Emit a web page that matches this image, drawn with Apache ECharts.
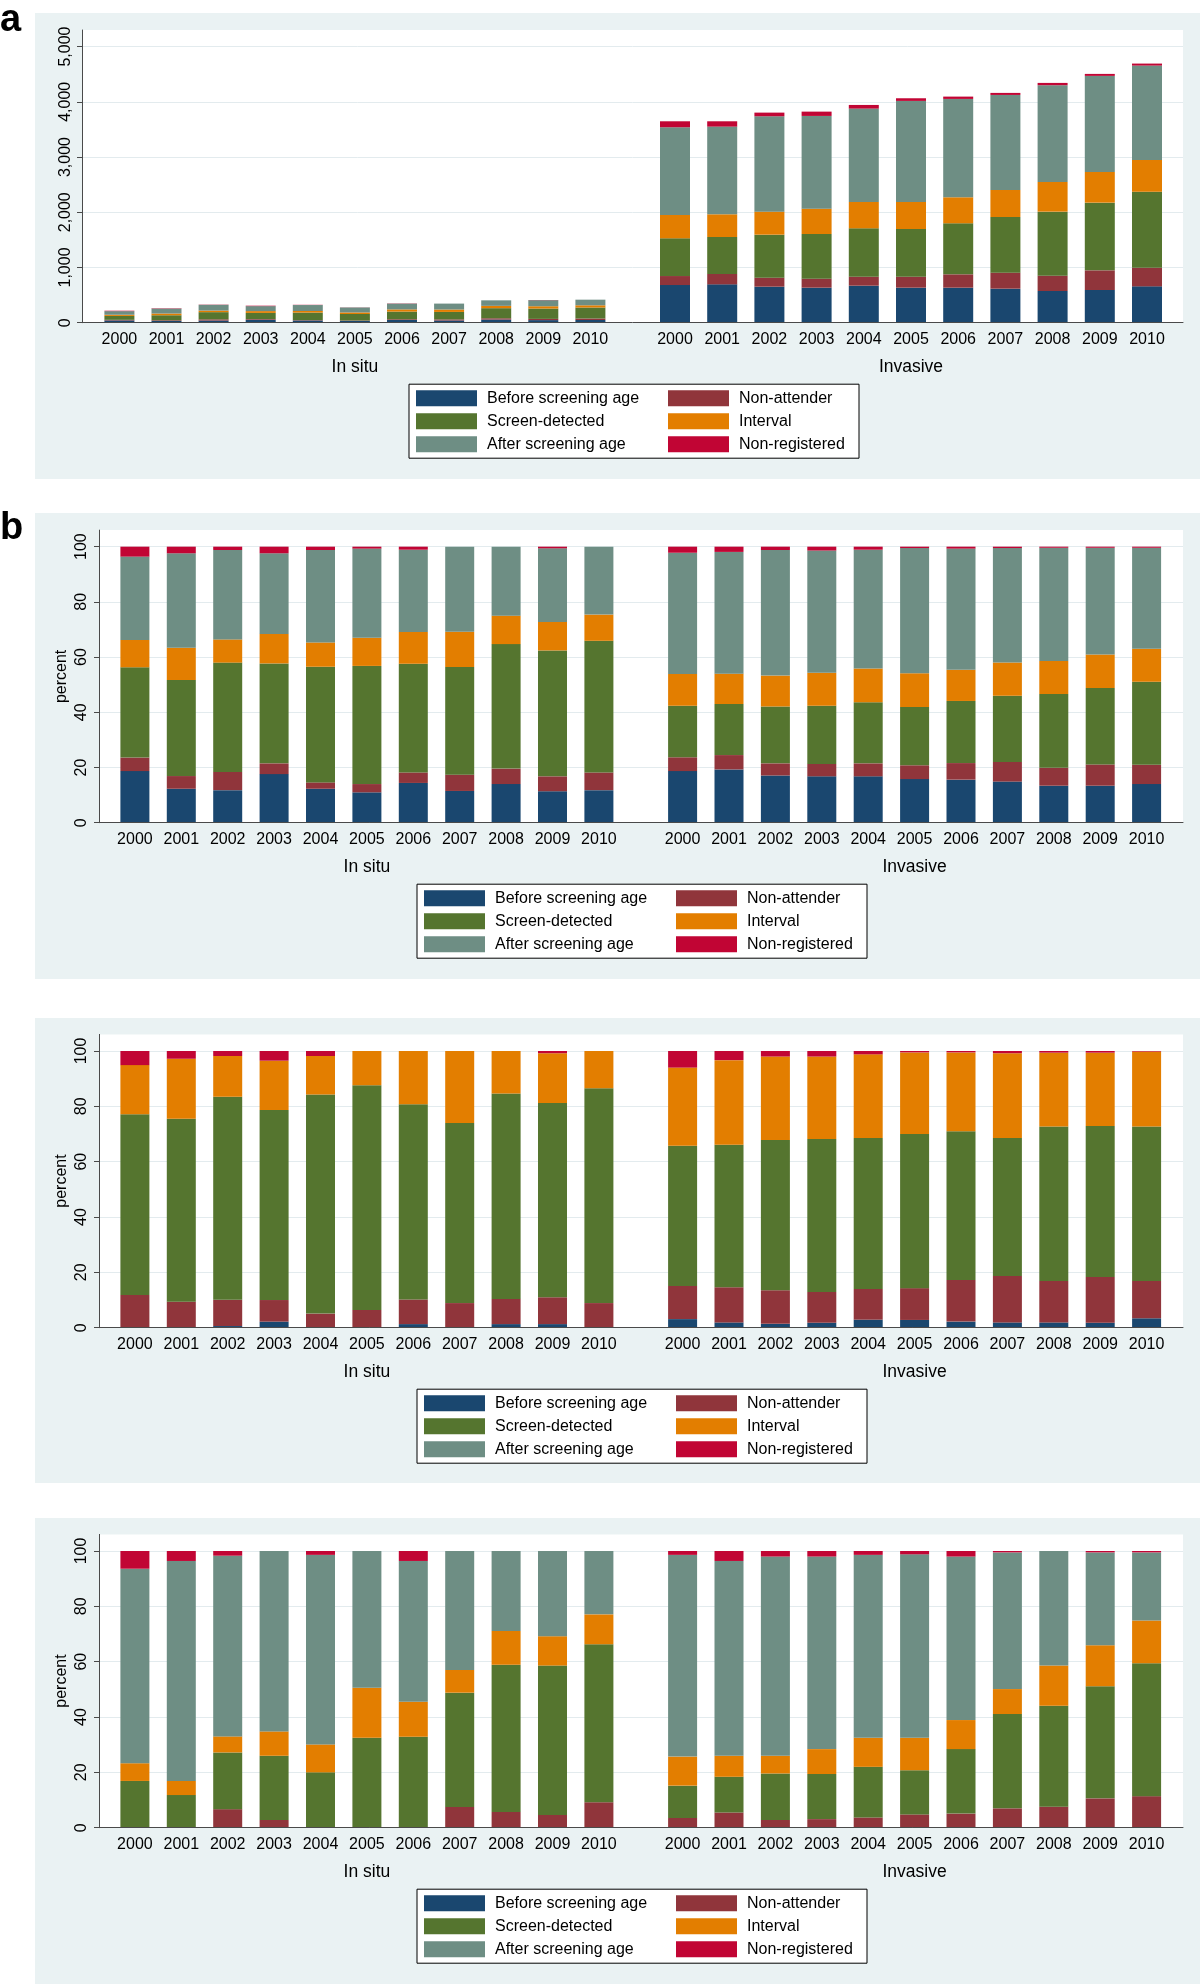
<!DOCTYPE html>
<html><head><meta charset="utf-8">
<script src="https://cdn.jsdelivr.net/npm/echarts@6/dist/echarts.min.js"></script>
<style>html,body{margin:0;padding:0;background:#fff}#c{width:1200px;height:1984px}</style>
</head><body><div id="c"></div><script>
const years = ['2000','2001','2002','2003','2004','2005','2006','2007','2008','2009','2010'];
const groups = ['In situ', 'Invasive'];
const seriesNames = ['Before screening age','Non-attender','Screen-detected','Interval','After screening age','Non-registered'];
const yTicksCount = [0, 1000, 2000, 3000, 4000, 5000];
const yTicksPct = [0, 20, 40, 60, 80, 100];

// order of rows: Before, Non-attender, Screen-detected, Interval, After, Non-registered
// Panel a: counts
const aInSitu = [
  [41,32,39,54,40,31,50,40,57,47,49],
  [11,12,22,12,7,8,13,20,23,22,27],
  [71,91,130,111,136,119,138,135,183,187,199],
  [21,31,28,33,29,28,40,44,42,42,40],
  [65,90,105,90,108,90,105,107,100,110,102],
  [8,6,4,8,4,2,4,0,0,3,0]
];
const aInvasive = [
  [682,694,652,634,670,634,634,616,574,592,658],
  [163,188,163,163,163,199,242,290,277,356,338],
  [683,670,779,809,876,864,924,1008,1160,1226,1377],
  [422,411,417,459,477,489,471,489,537,555,574],
  [1589,1588,1727,1679,1691,1830,1781,1721,1752,1740,1709],
  [108,96,66,78,66,48,42,37,42,36,36]
];
// Panel b: percent, all ages
const bInSitu = [
  [18.7,12.3,11.8,17.6,12.3,11.0,14.4,11.5,14.0,11.4,11.8],
  [4.9,4.6,6.6,3.9,2.3,3.0,3.8,5.9,5.6,5.4,6.4],
  [32.7,34.8,39.6,36.2,41.9,42.8,39.4,39.0,45.1,45.6,47.7],
  [9.9,11.7,8.4,10.7,8.8,10.2,11.5,12.8,10.3,10.3,9.5],
  [30.2,34.2,32.4,29.2,33.5,32.3,29.8,30.8,25.0,26.7,24.6],
  [3.6,2.4,1.2,2.4,1.2,0.7,1.1,0,0,0.6,0]
];
const bInvasive = [
  [18.7,19.3,17.1,16.8,16.8,15.8,15.6,14.9,13.4,13.4,14.0],
  [5.0,5.2,4.4,4.5,4.7,5.0,6.0,7.1,6.5,7.7,7.0],
  [18.7,18.5,20.6,21.1,22.1,21.1,22.5,24.0,26.7,27.7,30.1],
  [11.5,11.0,11.2,11.9,12.3,12.2,11.3,12.0,12.0,12.1,11.9],
  [43.9,44.1,45.5,44.3,43.0,45.4,43.9,41.5,41.0,38.7,36.6],
  [2.2,1.9,1.2,1.4,1.1,0.5,0.7,0.5,0.4,0.4,0.4]
];
// Panel c: percent
const cInSitu = [
  [0,0,0.6,2.2,0,0,1.3,0,1.3,1.3,0],
  [11.8,9.4,9.5,7.8,5.1,6.4,8.9,8.9,9.1,9.7,8.9],
  [65.3,66.1,73.4,68.7,79.2,81.2,70.6,65.1,74.2,70.2,77.6],
  [17.8,21.7,14.7,17.8,13.9,12.4,19.2,26.0,15.4,18.0,13.5],
  [0,0,0,0,0,0,0,0,0,0,0],
  [5.1,2.8,1.8,3.5,1.8,0,0,0,0,0.8,0]
];
const cInvasive = [
  [3.1,1.9,1.4,1.8,2.9,2.8,2.2,1.9,1.9,1.8,3.4],
  [12.0,12.7,12.1,11.1,11.1,11.5,15.0,16.8,15.0,16.5,13.5],
  [50.7,51.5,54.3,55.3,54.6,55.7,53.8,49.9,55.8,54.6,55.8],
  [28.2,30.6,30.2,29.8,30.2,29.5,28.5,30.6,26.7,26.5,27.1],
  [0,0,0,0,0,0,0,0,0,0,0],
  [6.0,3.3,2.0,2.0,1.2,0.5,0.5,0.8,0.6,0.6,0.2]
];
// Panel d: percent
const dInSitu = [
  [0,0,0,0,0,0,0,0,0,0,0],
  [0,0,6.7,2.8,0,0,0,7.5,5.7,4.6,9.2],
  [16.9,11.8,20.5,23.2,20.0,32.5,32.9,41.3,53.2,54.0,57.1],
  [6.4,5.1,5.8,8.8,10.1,18.1,12.6,8.2,12.2,10.6,10.8],
  [70.3,79.5,65.3,65.2,68.5,49.4,50.9,43.0,28.9,30.8,22.9],
  [6.4,3.6,1.7,0,1.4,0,3.6,0,0,0,0]
];
const dInvasive = [
  [0,0,0,0,0,0,0,0,0,0,0],
  [3.5,5.5,2.8,3.1,3.7,4.8,5.1,7.0,7.6,10.6,11.4],
  [11.7,12.9,16.8,16.3,18.3,16.0,23.3,34.1,36.5,40.5,48.0],
  [10.5,7.6,6.4,9.0,10.5,11.7,10.5,9.0,14.5,14.8,15.5],
  [72.9,70.4,72.0,69.6,66.1,66.3,59.1,49.4,41.4,33.6,24.6],
  [1.4,3.6,2.0,2.0,1.4,1.2,2.0,0.5,0,0.5,0.5]
];

// ---- styling / layout ----
const colors = ['#1a476f','#90353b','#55752f','#e37e00','#6e8e84','#c10534'];
const FONT = '"Liberation Sans", Arial, Helvetica, sans-serif';
const BG = '#eaf2f3';
const AXIS = '#4a4a4a';
const GRIDLINE = '#e3ebee';

const panels = [
  {data:[aInSitu,aInvasive], yMax:5300, ticks:yTicksCount, yName:'', plotLeft:82, top:30, height:292.7,
   bgTop:13, bgH:466, g1:[95.85,518.1], g2:[651.4,519.2], barW:30, legLeft:409, label:'a', labelTop:2, labMargin:8},
  {data:[bInSitu,bInvasive], yMax:106, ticks:yTicksPct, yName:'percent', plotLeft:99, top:530.1, height:292.6,
   bgTop:513, bgH:466, g1:[111.7,510.4], g2:[659.4,510.4], barW:29, legLeft:417, label:'b', labelTop:510, labMargin:9},
  {data:[cInSitu,cInvasive], yMax:106, ticks:yTicksPct, yName:'percent', plotLeft:99, top:1034.4, height:293.3,
   bgTop:1018, bgH:465, g1:[111.7,510.4], g2:[659.4,510.4], barW:29, legLeft:417, label:'', labMargin:9},
  {data:[dInSitu,dInvasive], yMax:106, ticks:yTicksPct, yName:'percent', plotLeft:99, top:1534.4, height:293.3,
   bgTop:1518, bgH:466, g1:[111.7,510.4], g2:[659.4,510.4], barW:29, legLeft:417, label:'', labMargin:9}
];

const grid = [], xAxis = [], yAxis = [], series = [], legend = [], title = [], graphic = [];

panels.forEach((p, i) => {
  graphic.push({type:'rect', z:-10, shape:{x:35, y:p.bgTop, width:1165, height:p.bgH}, style:{fill:BG}});
  if (p.yName) graphic.push({type:'text', z:10, x:p.plotLeft - 37, y:p.top + p.height / 2, rotation:Math.PI / 2,
    style:{text:p.yName, fontSize:16, fontFamily:FONT, fill:'#000', align:'center', verticalAlign:'middle'}});
  if (p.label) title.push({text:p.label, left:0, top:p.labelTop, padding:0,
    textStyle:{fontSize:38, fontWeight:'bold', color:'#000', fontFamily:FONT}});
  const base = i * 3;
  grid.push({left:p.plotLeft, right:17, top:p.top, height:p.height, show:true, backgroundColor:'#fff', borderWidth:0});
  grid.push({left:p.g1[0], width:p.g1[1], top:p.top, height:p.height});
  grid.push({left:p.g2[0], width:p.g2[1], top:p.top, height:p.height});
  xAxis.push({gridIndex:base, type:'value', min:0, max:1, z:5,
    axisLine:{show:true, lineStyle:{color:AXIS, width:1}}, axisTick:{show:false}, axisLabel:{show:false}, splitLine:{show:false}});
  const step = p.ticks[1] - p.ticks[0];
  yAxis.push({gridIndex:base, type:'value', min:0, max:p.yMax, interval:step,
    axisLine:{show:true, lineStyle:{color:AXIS, width:1}},
    axisTick:{show:true, length:5, lineStyle:{color:AXIS}, customValues:p.ticks},
    axisLabel:{rotate:90, margin:p.labMargin, fontSize:16, color:'#000', fontFamily:FONT, customValues:p.ticks,
      formatter: v => p.ticks.includes(v) ? v.toLocaleString('en-US') : ''},
    splitLine:{show:true, lineStyle:{color:GRIDLINE, width:1}}});
  [0,1].forEach(g => {
    const idx = base + 1 + g;
    xAxis.push({gridIndex:idx, type:'category', data:years, name:groups[g], nameLocation:'middle', nameGap:35,
      nameTextStyle:{fontSize:17.5, color:'#000', fontFamily:FONT},
      axisLine:{show:false}, axisTick:{show:false},
      axisLabel:{margin:9, fontSize:16, color:'#000', fontFamily:FONT, interval:0}});
    yAxis.push({gridIndex:idx, type:'value', min:0, max:p.yMax, show:false});
    seriesNames.forEach((name, s) => {
      series.push({type:'bar', name:name, xAxisIndex:idx, yAxisIndex:idx, stack:'p'+i+'g'+g,
        data:p.data[g][s], barWidth:p.barW, itemStyle:{color:colors[s]}});
    });
  });
  legend.push({
    data: seriesNames.map((n, k) => ({name:n, textStyle:{width: k % 2 === 0 ? 174 : 112}})),
    left:p.legLeft, top:p.top + p.height + 61.5, width:450, orient:'horizontal',
    itemWidth:61, itemHeight:16, itemGap:7, icon:'rect',
    padding:[6,8,6,7], borderColor:'#000', borderWidth:1, backgroundColor:'#fff',
    textStyle:{fontSize:16, color:'#000', lineHeight:16, fontFamily:FONT, padding:[0,0,0,5]}
  });
});

const chart = echarts.init(document.getElementById('c'), null, {renderer:'canvas'});
chart.setOption({
  animation:false,
  backgroundColor:'#fff',
  color:colors,
  textStyle:{fontFamily:FONT},
  title, graphic, grid, xAxis, yAxis, series, legend
});
</script></body></html>
